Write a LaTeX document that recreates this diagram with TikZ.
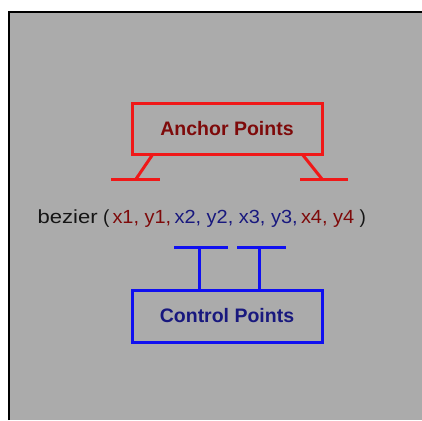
\documentclass[tikz,border=0pt]{standalone}
\usepackage{fontspec}
\usepackage{graphicx}
\setmainfont{Liberation Sans}
\definecolor{panel}{HTML}{ABABAB}
\definecolor{anchorline}{HTML}{F01818}
\definecolor{anchortext}{HTML}{7E0A0A}
\definecolor{ctrlline}{HTML}{1010F0}
\definecolor{ctrltext}{HTML}{18187E}
\definecolor{ink}{HTML}{151515}
\tikzset{
  redline/.style={draw=anchorline, line width=3pt},
  blueline/.style={draw=ctrlline, line width=3pt},
  labelbox/.style={minimum width=190pt, minimum height=51pt, inner sep=0pt,
    font=\fontsize{19.5}{22}\selectfont\bfseries},
}
\begin{document}
\begin{tikzpicture}[x=1pt,y=-1pt]
  \useasboundingbox (0,0) rectangle (422,420);
  % background panel with frame on top and left
  \fill[white] (0,0) rectangle (422,420);
  \fill[panel] (9,12) rectangle (422,420);
  \draw[black, line width=2.6pt] (9,420) -- (9,12) -- (422,12);

  % anchor points box and its two legs
  \node[labelbox, redline, text=anchortext] (anchor) at (227,128.5) {Anchor Points};
  \coordinate (al) at (153,154);
  \coordinate (alf) at (136,179);
  \coordinate (ar) at (302,154);
  \coordinate (arf) at (322,179);
  \coordinate (alL) at (111,179);
  \coordinate (alR) at (160,179);
  \coordinate (arL) at (300,179);
  \coordinate (arR) at (348,179);
  \draw[redline] (al) -- (alf);
  \draw[redline] (ar) -- (arf);
  \draw[redline] (alL) -- (alR);
  \draw[redline] (arL) -- (arR);

  % the call text
  \node[anchor=base west, inner sep=0pt, font=\fontsize{19}{22}\selectfont] (call) at (37.5,223)
    {\textcolor{ink}{\scalebox{1.16}[1]{bezier}~(}\,\scalebox{1.05}[1]{\textcolor{anchortext}{x1, y1,}\,\textcolor{ctrltext}{x2, y2, x3, y3,}\,\textcolor{anchortext}{x4, y4}}~\textcolor{ink}{)}};

  % control points box and its two stems
  \node[labelbox, blueline, text=ctrltext, minimum height=52pt] (ctrl) at (227,316) {Control Points};
  \coordinate (s1) at (199,290);
  \coordinate (s1t) at (199,247);
  \coordinate (s2) at (259,290);
  \coordinate (s2t) at (259,247);
  \coordinate (c1L) at (174,247);
  \coordinate (c1R) at (228,247);
  \coordinate (c2L) at (237,247);
  \coordinate (c2R) at (286,247);
  \draw[blueline] (s1) -- (s1t);
  \draw[blueline] (s2) -- (s2t);
  \draw[blueline] (c1L) -- (c1R);
  \draw[blueline] (c2L) -- (c2R);
\end{tikzpicture}
\end{document}
